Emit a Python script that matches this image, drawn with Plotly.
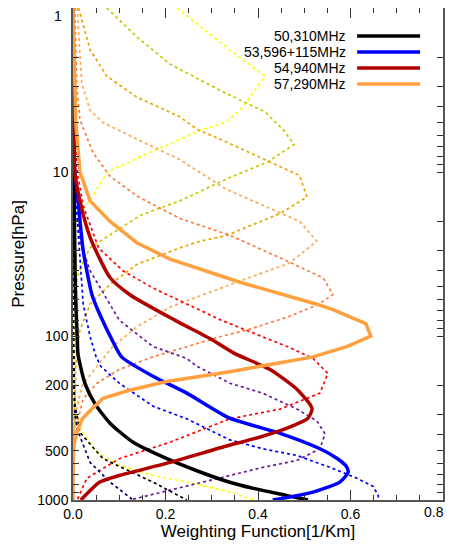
import plotly.graph_objects as go

# ---- solid channels (shown in legend) ----
names = ['50,310MHz', '53,596+115MHz', '54,940MHz', '57,290MHz']
colors = ['#000000', '#0000ff', '#b00000', '#ffa040']

p_ch3 = [1, 10, 50, 100, 130, 195, 260, 340, 445, 560, 675, 780, 850, 940, 1000]
wf_ch3 = [0.0, 0.002, 0.005, 0.009, 0.011, 0.026, 0.048, 0.08, 0.13, 0.203, 0.275, 0.339, 0.39, 0.463, 0.508]

p_ch5 = [1, 10, 15, 30, 56, 74, 105, 134, 176, 223, 317, 392, 487, 560, 619, 675, 778, 895, 1000]
wf_ch5 = [0.0, 0.004, 0.011, 0.022, 0.041, 0.058, 0.084, 0.105, 0.173, 0.246, 0.339, 0.448, 0.534, 0.572, 0.59, 0.595, 0.577, 0.519, 0.432]

p_ch7 = [1, 5, 10, 15, 25, 44, 56, 80, 105, 128, 160, 211, 260, 279, 317, 364, 424, 470, 590, 709, 778, 1000]
wf_ch7 = [0.0, 0.002, 0.004, 0.015, 0.037, 0.08, 0.123, 0.22, 0.30, 0.35, 0.426, 0.484, 0.512, 0.517, 0.508, 0.463, 0.39, 0.33, 0.21, 0.10, 0.058, 0.017]

p_ch9 = [1, 5, 10, 15, 20, 27, 34, 44, 47, 64, 69, 84, 100, 116, 134, 165, 190, 215, 240, 280, 320, 390, 490, 1000]
wf_ch9 = [0.0, 0.006, 0.015, 0.037, 0.08, 0.138, 0.21, 0.33, 0.361, 0.527, 0.562, 0.633, 0.644, 0.592, 0.519, 0.339, 0.2, 0.12, 0.065, 0.04, 0.02, 0.008, 0.0, 0.0]

# ---- other channels (dotted, no legend) ----
p_yel = [1, 1.3, 1.8, 2.6, 4.0, 5.0, 5.5, 7.6, 10, 13, 17, 25, 50, 100, 200, 300, 390, 514, 612, 709, 778, 890, 1000]
wf_yel = [0.225, 0.275, 0.339, 0.415, 0.368, 0.33, 0.28, 0.166, 0.075, 0.05, 0.022, 0.01, 0.005, 0.004, 0.004, 0.005, 0.022, 0.052, 0.10, 0.173, 0.246, 0.339, 0.39]

p_olv = [1, 1.5, 2.2, 3.2, 4.3, 5.5, 6.8, 8.7, 11, 15, 18.4, 24.3, 29, 35, 44, 100, 200, 500, 1000]
wf_olv = [0.073, 0.138, 0.21, 0.32, 0.415, 0.454, 0.478, 0.42, 0.333, 0.231, 0.145, 0.08, 0.037, 0.022, 0.009, 0.004, 0.003, 0.001, 0.0]

p_gld = [1, 1.8, 2.6, 3.5, 4.6, 5.5, 6.3, 9.6, 10.5, 14.2, 17.9, 24.5, 26.4, 29, 36.6, 48.5, 64, 92, 150, 300, 1000]
wf_gld = [0.012, 0.037, 0.073, 0.138, 0.231, 0.268, 0.318, 0.463, 0.49, 0.506, 0.448, 0.33, 0.275, 0.231, 0.138, 0.08, 0.037, 0.015, 0.006, 0.003, 0.0]

p_lor = [1, 2.9, 4.2, 5.0, 6.3, 8.4, 12.7, 20, 26.4, 35.8, 48.7, 66.6, 88, 116, 153, 200, 300, 1000]
wf_lor = [0.009, 0.019, 0.037, 0.065, 0.138, 0.231, 0.33, 0.49, 0.527, 0.469, 0.339, 0.21, 0.138, 0.086, 0.052, 0.02, 0.005, 0.0]

p_ord = [1, 3, 4.8, 7.6, 10.6, 14, 19.2, 24.3, 34.9, 44.3, 55.8, 65, 76.7, 92, 101, 134, 160, 194, 242, 338, 500, 1000]
wf_ord = [0.004, 0.008, 0.015, 0.043, 0.08, 0.138, 0.231, 0.339, 0.463, 0.541, 0.562, 0.527, 0.463, 0.376, 0.318, 0.173, 0.10, 0.052, 0.022, 0.009, 0.003, 0.0]

p_red = [1, 5, 10, 16, 29, 40, 51, 64, 80, 116, 137, 169, 223, 279, 320, 444, 560, 737, 1000]
wf_red = [0.0, 0.003, 0.009, 0.022, 0.055, 0.108, 0.173, 0.246, 0.32, 0.463, 0.519, 0.551, 0.534, 0.448, 0.339, 0.21, 0.10, 0.03, 0.009]

p_pur = [1, 10, 20, 26.4, 40, 80, 116, 137, 153, 194, 223, 279, 329, 395, 487, 574, 633, 710, 847, 1000]
wf_pur = [0.0, 0.003, 0.01, 0.015, 0.037, 0.10, 0.173, 0.246, 0.268, 0.339, 0.41, 0.484, 0.527, 0.545, 0.534, 0.484, 0.41, 0.339, 0.231, 0.123]

p_blu = [1, 10, 25, 64, 101, 134, 153, 194, 268, 320, 430, 487, 535, 633, 737, 826, 940, 1000]
wf_blu = [0.0, 0.002, 0.012, 0.022, 0.037, 0.05, 0.06, 0.10, 0.173, 0.246, 0.339, 0.41, 0.484, 0.556, 0.614, 0.649, 0.66, 0.66]

p_nvy = [1, 100, 300, 370, 590, 778, 1000]
wf_nvy = [0.0, 0.001, 0.004, 0.009, 0.037, 0.08, 0.13]

p_blk = [1, 150, 250, 388, 560, 778, 1000]
wf_blk = [0.0, 0.001, 0.003, 0.015, 0.065, 0.173, 0.246]

dotted = [
    (p_yel, wf_yel, '#ffff00'),
    (p_olv, wf_olv, '#c8c800'),
    (p_gld, wf_gld, '#eaa400'),
    (p_lor, wf_lor, '#ffa850'),
    (p_ord, wf_ord, '#ff7a3c'),
    (p_red, wf_red, '#ff0000'),
    (p_pur, wf_pur, '#6a1a9a'),
    (p_blu, wf_blu, '#0000ff'),
    (p_nvy, wf_nvy, '#000070'),
    (p_blk, wf_blk, '#000000'),
]
solid = [(p_ch3, wf_ch3), (p_ch5, wf_ch5), (p_ch7, wf_ch7), (p_ch9, wf_ch9)]
smooth = [True, True, True, False]  # the 57,290 curve has visible corners

fig = go.Figure()

for p, wf, c in dotted:
    fig.add_trace(go.Scatter(x=wf, y=p, mode='lines', showlegend=False,
                             line=dict(color=c, width=1.7, dash='dot')))

for (p, wf), c, n, s in zip(solid, colors, names, smooth):
    fig.add_trace(go.Scatter(x=wf, y=p, mode='lines', name=n, showlegend=False,
                             line=dict(color=c, width=3.5,
                                       shape='spline' if s else 'linear', smoothing=0.6)))

# legend drawn by hand: text right-aligned, line sample on the right
for i, (n, c) in enumerate(zip(names, colors)):
    yy = 0.943 - i * 0.0325
    fig.add_annotation(x=0.742, y=yy, xref='paper', yref='paper', text=n,
                       showarrow=False, xanchor='right', yanchor='middle',
                       font=dict(size=14, color='#000000'))
    fig.add_shape(type='line', xref='paper', yref='paper', x0=0.768, x1=0.938,
                  y0=yy, y1=yy, line=dict(color=c, width=3.5))

# edge labels placed by hand so they are not clipped at the figure border
fig.add_annotation(x=-0.025, y=0, xref='paper', yref='y', text='1', showarrow=False,
                   xanchor='right', yanchor='top', yshift=2)
fig.add_annotation(x=1, y=0, xref='paper', yref='paper', text='0.8', showarrow=False,
                   xanchor='right', yanchor='top', xshift=3, yshift=-2)

fig.update_layout(
    width=437, height=534,
    margin=dict(l=65, r=2, t=0, b=42),
    paper_bgcolor='white', plot_bgcolor='white',
    font=dict(family='Liberation Sans, Arial, sans-serif', size=14, color='#000000'),
    xaxis=dict(
        range=[0, 0.8], tickvals=[0, 0.2, 0.4, 0.6, 0.8], tickformat='.1f',
        ticktext=['0.0', '0.2', '0.4', '0.6', ''],
        ticks='inside', ticklen=10, tickcolor='#333333', mirror='ticks',
        showline=True, linecolor='#555555', linewidth=1.5, showgrid=False, zeroline=False,
        minor=dict(tickvals=[0.05, 0.1, 0.15, 0.25, 0.3, 0.35, 0.45, 0.5, 0.55, 0.65, 0.7, 0.75],
                   ticks='inside', ticklen=5, tickcolor='#333333'),
        ticklabelstandoff=0,
        title=dict(text='Weighting Function[1/Km]', standoff=5),
        automargin=False,
    ),
    yaxis=dict(
        type='log', range=[3, 0], tickvals=[1, 10, 100, 200, 500, 1000],
        ticktext=['', '10', '100', '200', '500', '1000'],
        ticks='inside', ticklen=6, tickcolor='#333333', mirror='ticks',
        showline=True, linecolor='#555555', linewidth=1.5, showgrid=False, zeroline=False,
        minor=dict(tickvals=[2, 3, 4, 5, 6, 7, 8, 9, 20, 30, 40, 50, 60, 70, 80, 90,
                             300, 400, 600, 700, 800, 900],
                   ticks='inside', ticklen=6, tickcolor='#333333'),
        title=dict(text='Pressure[hPa]', standoff=8),
        automargin=False,
    ),
)

fig.write_html("out.html")
